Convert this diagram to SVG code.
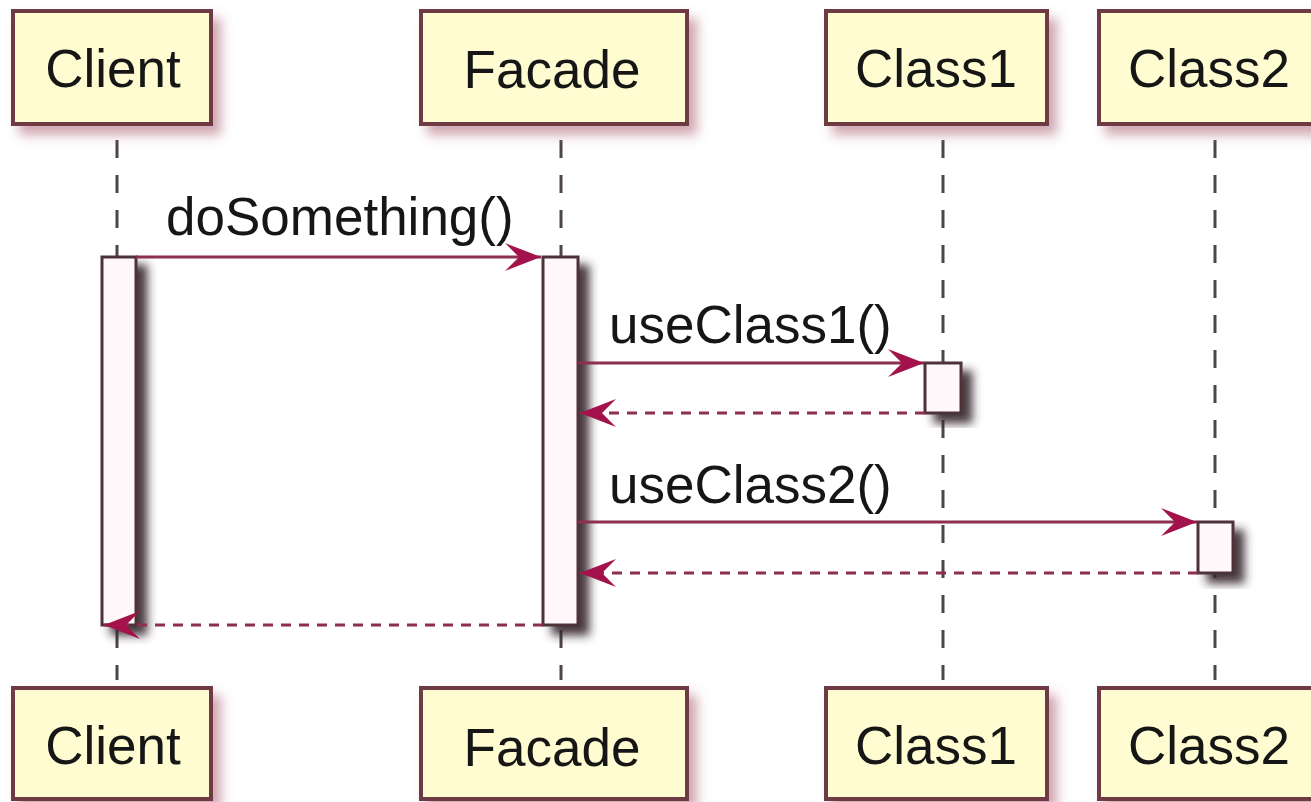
<svg xmlns="http://www.w3.org/2000/svg" width="1311" height="802" viewBox="0 0 1311 802">
  <style>
    .box { fill: #FEFCD0; stroke: #6e3b44; stroke-width: 4; }
    .name { font-family: "Liberation Sans", Arial, sans-serif; font-size: 53px; fill: #161616; text-anchor: middle; }
    .life { stroke: #4d4548; stroke-width: 3; stroke-dasharray: 18 17; fill: none; }
    .act { fill: #FFF7F9; stroke: #4e3238; stroke-width: 3; }
    .msg { stroke: #8c2f50; stroke-width: 3; fill: none; }
    .ret { stroke: #8c2f50; stroke-width: 3; stroke-dasharray: 10 8; fill: none; }
    .lbl { font-family: "Liberation Sans", Arial, sans-serif; font-size: 53px; fill: #161616; }
  </style>
  <defs>
    <!-- soft drop shadow for participant boxes -->
    <filter id="boxShadow" x="-20%" y="-20%" width="150%" height="160%">
      <feGaussianBlur in="SourceAlpha" stdDeviation="6"/>
      <feOffset dx="8" dy="9" result="b"/>
      <feFlood flood-color="#b06a7c" flood-opacity="0.6"/>
      <feComposite in2="b" operator="in"/>
      <feMerge><feMergeNode/><feMergeNode in="SourceGraphic"/></feMerge>
    </filter>
    <!-- darker shadow for activation bars -->
    <filter id="barShadow" x="-60%" y="-20%" width="260%" height="150%">
      <feGaussianBlur in="SourceAlpha" stdDeviation="5"/>
      <feOffset dx="10" dy="9" result="b"/>
      <feFlood flood-color="#33242a" flood-opacity="0.9"/>
      <feComposite in2="b" operator="in"/>
      <feMerge><feMergeNode/><feMergeNode in="SourceGraphic"/></feMerge>
    </filter>
    <marker id="head" viewBox="0 0 36 28" refX="36" refY="14" markerWidth="36" markerHeight="28" markerUnits="userSpaceOnUse" orient="auto">
      <path d="M36,14 L0,0 L14,14 L0,28 Z" fill="#A3124A"/>
    </marker>
  </defs>

  <rect width="1311" height="802" fill="#ffffff"/>

  <!-- lifelines -->
  <g id="lifelines">
    <line class="life" x1="117" y1="140" x2="117" y2="680"/>
    <line class="life" x1="561" y1="140" x2="561" y2="680"/>
    <line class="life" x1="943" y1="140" x2="943" y2="680"/>
    <line class="life" x1="1215" y1="140" x2="1215" y2="680"/>
  </g>

  <!-- participants (head) -->
  <g id="client-top" filter="url(#boxShadow)">
    <rect class="box" x="13" y="11" width="198" height="113"/>
    <text class="name" x="113" y="87">Client</text>
  </g>
  <g id="facade-top" filter="url(#boxShadow)">
    <rect class="box" x="421" y="11" width="266" height="113"/>
    <text class="name" x="552" y="88">Facade</text>
  </g>
  <g id="class1-top" filter="url(#boxShadow)">
    <rect class="box" x="826" y="11" width="221" height="113"/>
    <text class="name" x="936" y="87">Class1</text>
  </g>
  <g id="class2-top" filter="url(#boxShadow)">
    <rect class="box" x="1099" y="11" width="234" height="113"/>
    <text class="name" x="1209" y="87">Class2</text>
  </g>

  <!-- activations -->
  <g id="client-activation" filter="url(#barShadow)">
    <rect class="act" x="102" y="257" width="34" height="368"/>
  </g>
  <g id="facade-activation" filter="url(#barShadow)">
    <rect class="act" x="543" y="257" width="35" height="368"/>
  </g>
  <g id="class1-activation" filter="url(#barShadow)">
    <rect class="act" x="925" y="363" width="36" height="50"/>
  </g>
  <g id="class2-activation" filter="url(#barShadow)">
    <rect class="act" x="1198" y="522" width="35" height="51"/>
  </g>

  <!-- messages -->
  <g id="connectors">
    <line class="msg" x1="136" y1="257" x2="541" y2="257" marker-end="url(#head)"/>
    <line class="msg" x1="578" y1="363" x2="924" y2="363" marker-end="url(#head)"/>
    <line class="ret" x1="925" y1="413" x2="580" y2="413" marker-end="url(#head)"/>
    <line class="msg" x1="578" y1="522" x2="1197" y2="522" marker-end="url(#head)"/>
    <line class="ret" x1="1198" y1="573" x2="580" y2="573" marker-end="url(#head)"/>
    <line class="ret" x1="543" y1="625" x2="104" y2="625" marker-end="url(#head)"/>
  </g>

  <g id="labels">
    <text class="lbl" x="166" y="235">doSomething()</text>
    <text class="lbl" x="609" y="343">useClass1()</text>
    <text class="lbl" x="609" y="503">useClass2()</text>
  </g>

  <!-- participants (foot) -->
  <g id="client-bottom" filter="url(#boxShadow)">
    <rect class="box" x="13" y="688" width="198" height="111"/>
    <text class="name" x="113" y="764">Client</text>
  </g>
  <g id="facade-bottom" filter="url(#boxShadow)">
    <rect class="box" x="421" y="688" width="266" height="111"/>
    <text class="name" x="552" y="766">Facade</text>
  </g>
  <g id="class1-bottom" filter="url(#boxShadow)">
    <rect class="box" x="826" y="688" width="221" height="111"/>
    <text class="name" x="936" y="764">Class1</text>
  </g>
  <g id="class2-bottom" filter="url(#boxShadow)">
    <rect class="box" x="1099" y="688" width="234" height="111"/>
    <text class="name" x="1209" y="764">Class2</text>
  </g>
</svg>
